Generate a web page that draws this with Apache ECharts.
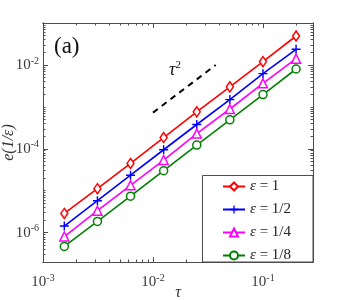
<!DOCTYPE html>
<html>
<head>
<meta charset="utf-8">
<script src="https://cdn.jsdelivr.net/npm/echarts@6/dist/echarts.min.js"></script>
<style>html,body{margin:0;padding:0;background:#fff}#c{width:343px;height:300px}</style>
</head>
<body>
<div id="c"></div>
<script>
// ---- data ----
const tau = [0.0015625, 0.003125, 0.00625, 0.0125, 0.025, 0.05, 0.1, 0.2];
const errEps1 = [2.88e-6, 1.12e-5, 4.47e-5, 1.86e-4, 7.6e-4, 3.0e-3, 1.2e-2, 4.9e-2];
const errEps2 = [1.44e-6, 5.8e-6, 2.35e-5, 9.5e-5, 3.8e-4, 1.49e-3, 6.2e-3, 2.36e-2];
const errEps4 = [8.1e-7, 3.34e-6, 1.35e-5, 5.4e-5, 2.31e-4, 8.9e-4, 3.65e-3, 1.41e-2];
const errEps8 = [4.7e-7, 1.86e-6, 7.4e-6, 3.0e-5, 1.23e-4, 4.9e-4, 1.96e-3, 8.0e-3];
const refX = [0.01, 0.0372];
const refY = [7.3e-4, 0.01];
const seriesNames = ['ε = 1', 'ε = 1/2', 'ε = 1/4', 'ε = 1/8'];
const xMajor = [1e-3, 1e-2, 1e-1];
const yMajor = [1e-6, 1e-4, 1e-2];

function minorsOf(lo, hi) {
  const out = [];
  for (let e = Math.floor(Math.log10(lo)); e <= Math.ceil(Math.log10(hi)); e++) {
    for (let m = 1; m <= 9; m++) {
      const v = m * Math.pow(10, e);
      if (v >= lo && v <= hi) out.push(v);
    }
  }
  return out;
}
const X_MIN = 1e-3, X_MAX = 0.285, Y_MIN = 2e-7, Y_MAX = 0.1;
const xMinor = minorsOf(X_MIN, X_MAX);
const yMinor = minorsOf(Y_MIN, Y_MAX);

const axisColor = '#4d4d4d';
const serif = '"Liberation Serif", "DejaVu Serif", serif';
const labelFmt = v => '{b|10}{s|' + Math.round(Math.log10(v)) + '}';
const labelRich = {
  b: { fontFamily: serif, fontSize: 15, color: '#3a3a3a' },
  s: { fontFamily: serif, fontSize: 10, color: '#3a3a3a', verticalAlign: 'bottom', padding: [0, 0, 8, 0] }
};

function mkX(pos, major, withLabel, extra) {
  return Object.assign({
    type: 'log', min: X_MIN, max: X_MAX, position: pos, logBase: 10,
    axisLine: { show: true, lineStyle: { color: axisColor, width: 1 } },
    axisTick: { show: true, inside: true, length: major ? 5 : 2.5, customValues: major ? xMajor : xMinor, lineStyle: { color: axisColor } },
    axisLabel: withLabel ? { show: true, customValues: xMajor, formatter: labelFmt, rich: labelRich, margin: 11 } : { show: false },
    splitLine: { show: false }, minorTick: { show: false }
  }, extra || {});
}
function mkY(pos, major, withLabel, extra) {
  return Object.assign({
    type: 'log', min: Y_MIN, max: Y_MAX, position: pos, logBase: 10,
    axisLine: { show: true, lineStyle: { color: axisColor, width: 1 } },
    axisTick: { show: true, inside: true, length: major ? 5 : 2.5, customValues: major ? yMajor : yMinor, lineStyle: { color: axisColor } },
    axisLabel: withLabel ? { show: true, customValues: yMajor, formatter: labelFmt, rich: labelRich, margin: 4 } : { show: false },
    splitLine: { show: false }, minorTick: { show: false }
  }, extra || {});
}

const plusPath = 'path://M-1,-0.16L-0.16,-0.16L-0.16,-1L0.16,-1L0.16,-0.16L1,-0.16L1,0.16L0.16,0.16L0.16,1L-0.16,1L-0.16,0.16L-1,0.16Z';

function pairs(xs, ys) { return xs.map((x, i) => [x, ys[i]]); }

function mkSeries(name, ys, color, symbol, size, filled) {
  return {
    name: name, type: 'line', xAxisIndex: 0, yAxisIndex: 0,
    data: pairs(tau, ys), symbol: symbol, symbolSize: size, showAllSymbol: true,
    lineStyle: { color: color, width: 1.6 },
    itemStyle: filled ? { color: color, borderWidth: 0 } : { color: '#fff', borderColor: color, borderWidth: 1.5 },
    emphasis: { disabled: true }, animation: false, z: 3
  };
}

const chart = echarts.init(document.getElementById('c'), null, { renderer: 'canvas' });
chart.setOption({
  animation: false,
  backgroundColor: '#fff',
  grid: { left: 43, top: 23, width: 270, height: 239, containLabel: false, outerBoundsMode: 'none' },
  xAxis: [
    mkX('bottom', true, true, { name: 'τ', nameLocation: 'middle', nameGap: 23, nameMoveOverlap: false,
      nameTextStyle: { fontFamily: serif, fontStyle: 'italic', fontSize: 16, color: '#333' } }),
    mkX('bottom', false, false),
    mkX('top', true, false),
    mkX('top', false, false)
  ],
  yAxis: [
    mkY('left', true, true, { name: 'e(1/ε)', nameLocation: 'middle', nameGap: 26, nameRotate: 90, nameMoveOverlap: false,
      nameTextStyle: { fontFamily: serif, fontStyle: 'italic', fontSize: 16, color: '#333' } }),
    mkY('left', false, false),
    mkY('right', true, false),
    mkY('right', false, false)
  ],
  legend: {
    data: seriesNames, orient: 'vertical', left: 222, top: 179, z: 30,
    itemWidth: 22, itemHeight: 10, itemGap: 8, padding: 0,
    formatter: n => '{i|ε} = ' + n.split('= ')[1],
    textStyle: { fontFamily: serif, fontSize: 15, color: '#222',
      rich: { i: { fontFamily: serif, fontStyle: 'italic', fontSize: 15, color: '#222' } } },
    selectedMode: false
  },
  graphic: [
    { type: 'rect', shape: { x: 202.5, y: 175.5, width: 110.5, height: 86.5 }, style: { fill: '#fff', stroke: axisColor, lineWidth: 1 }, z: 5, silent: true },
    { type: 'text', x: 54, y: 35, style: { text: '(a)', font: '23px ' + serif, fill: '#111' }, z: 6 },
    { type: 'text', x: 169, y: 60, style: { text: '{t|τ}{s|2}', rich: { t: { font: 'italic 18px ' + serif, fill: '#111' }, s: { font: '11px ' + serif, fill: '#111', verticalAlign: 'bottom', padding: [0, 0, 9, 0] } } }, z: 6 }
  ],
  series: [
    mkSeries(seriesNames[0], errEps1, '#ff0000', 'diamond', [7, 10], false),
    mkSeries(seriesNames[1], errEps2, '#0000ff', plusPath, 9, true),
    mkSeries(seriesNames[2], errEps4, '#ff00ff', 'triangle', 9, false),
    mkSeries(seriesNames[3], errEps8, '#008000', 'circle', 8, false),
    { name: 'slope', type: 'line', xAxisIndex: 0, yAxisIndex: 0, data: pairs(refX, refY), symbol: 'none',
      lineStyle: { color: '#000', width: 2, type: [6, 5] }, z: 2 }
  ]
});
</script>
</body>
</html>
